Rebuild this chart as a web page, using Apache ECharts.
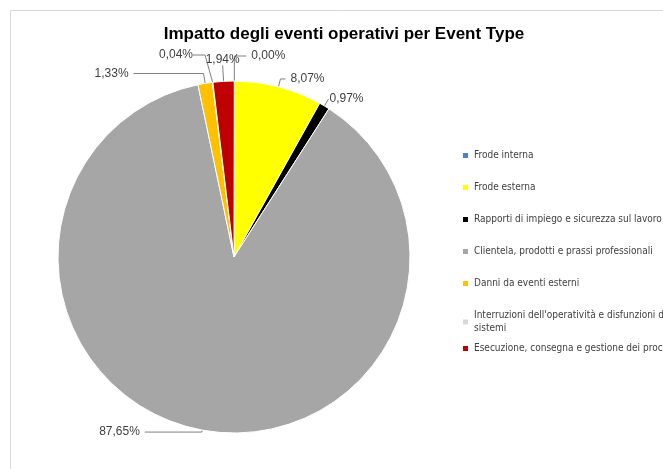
<!DOCTYPE html>
<html>
<head>
<meta charset="utf-8">
<script src="https://cdn.jsdelivr.net/npm/echarts@6/dist/echarts.min.js"></script>
<style>
	html, body { margin: 0; padding: 0; background: #fff; }
	#chart { width: 663px; height: 469px; }
</style>
</head>
<body>
<div id="chart"></div>
<script>
// categorie (Event Type)
var categories = [
	"Frode interna",
	"Frode esterna",
	"Rapporti di impiego e sicurezza sul lavoro",
	"Clientela, prodotti e prassi professionali",
	"Danni da eventi esterni",
	"Interruzioni dell'operatività e disfunzioni dei sistemi",
	"Esecuzione, consegna e gestione dei processi"
];
// percentuali
var values = [0.00, 8.07, 0.97, 87.65, 1.33, 0.04, 1.94];
var colors = ["#4F81BD", "#FFFF00", "#000000", "#A6A6A6", "#FFC000", "#D9D9D9", "#C00000"];
// linee guida delle etichette [length, length2, distanza testo]
var guide = [[25, 12, 5], [8, 5, 5], [8, 0, 1], [2, 57, 5], [10, 70, 5], [26, 12, 5], [16, 0, 0]];

var pieData = categories.map(function (c, i) {
	return {
		name: c,
		value: values[i],
		itemStyle: { color: colors[i] },
		label: { distanceToLabelLine: guide[i][2] },
		labelLine: { length: guide[i][0], length2: guide[i][1] }
	};
});

var legendText = {
	fontFamily: "DejaVu Sans Condensed, Liberation Sans, sans-serif",
	fontSize: 10,
	color: "#404040",
	lineHeight: 13
};

var myChart = echarts.init(document.getElementById("chart"));
var option = {
	backgroundColor: "#fff",
	animation: false,
	graphic: [
		{
			type: "rect",
			shape: { x: 10.5, y: 10.5, width: 700, height: 500 },
			style: { fill: "none", stroke: "#d9d9d9", lineWidth: 1 }
		}
	],
	title: {
		text: "Impatto degli eventi operativi per Event Type",
		left: 339,
		textAlign: "center",
		top: 21,
		textStyle: {
			fontFamily: "Liberation Sans, sans-serif",
			fontWeight: "bold",
			fontSize: 17,
			color: "#000"
		}
	},
	legend: [
		{
			orient: "vertical",
			left: 461,
			top: 149,
			padding: 0,
			itemWidth: 7,
			itemHeight: 7,
			itemGap: 19,
			icon: "rect",
			data: categories.slice(0, 6),
			formatter: function (name) {
				if (name.indexOf("Interruzioni") === 0) {
					return "Interruzioni dell'operatività e disfunzioni dei\nsistemi";
				}
				return name;
			},
			textStyle: legendText
		},
		{
			orient: "vertical",
			left: 461,
			top: 342,
			padding: 0,
			itemWidth: 7,
			itemHeight: 7,
			icon: "rect",
			data: categories.slice(6),
			textStyle: legendText
		}
	],
	series: [
		{
			type: "pie",
			center: [234, 257],
			radius: 176,
			startAngle: 89.9,
			clockwise: true,
			avoidLabelOverlap: false,
			data: pieData,
			itemStyle: { borderColor: "#fff", borderWidth: 1 },
			label: {
				formatter: function (p) {
					return p.value.toFixed(2).replace(".", ",") + "%";
				},
				fontFamily: "Liberation Sans, Arial, sans-serif",
				fontSize: 12,
				color: "#404040"
			},
			labelLine: {
				lineStyle: { color: "#808080", width: 1 }
			},
			labelLayout: function (p) {
				// etichetta di "Esecuzione" centrata sopra la fetta
				if (p.dataIndex === 6) {
					return { align: "center", verticalAlign: "bottom" };
				}
				// "Interruzioni": etichetta spostata a sinistra, linea obliqua
				if (p.dataIndex === 5) {
					return { x: 193, y: 55, align: "right", verticalAlign: "middle" };
				}
			}
		}
	]
};
myChart.setOption(option);
</script>
</body>
</html>
